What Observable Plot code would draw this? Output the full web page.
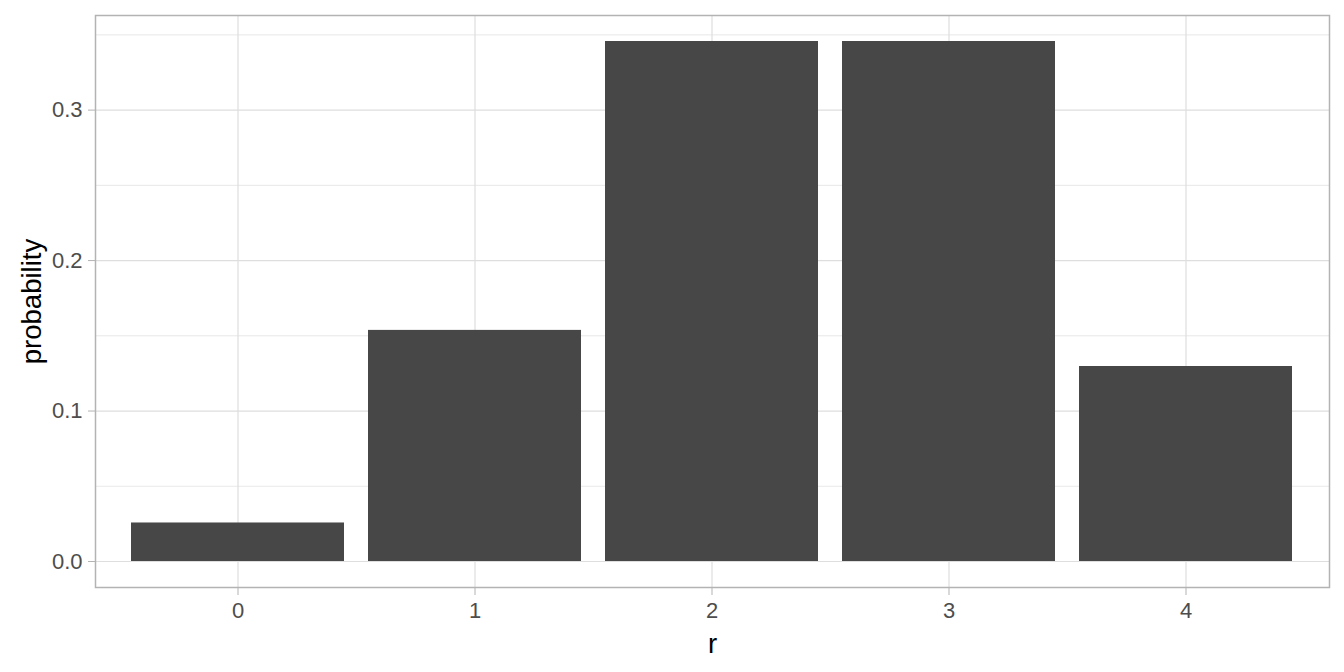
<!DOCTYPE html>
<html>
<head>
<meta charset="utf-8">
<script src="https://cdn.jsdelivr.net/npm/d3@7"></script>
<script src="https://cdn.jsdelivr.net/npm/@observablehq/plot@0.6"></script>
<style>
  html, body { margin: 0; padding: 0; background: white; }
</style>
</head>
<body>
<div id="chart"></div>
<script>
const r = [0, 1, 2, 3, 4];
const probability = [0.0256, 0.1536, 0.3456, 0.3456, 0.1296];
const yTicks = [0, 0.1, 0.2, 0.3];
const yMinorTicks = [0.05, 0.15, 0.25, 0.35];
const xTitle = "r";
const yTitle = "probability";

const data = r.map((v, i) => ({r: v, probability: probability[i]}));
const yMax = d3.max(probability);
const pad = yMax * 0.05;

const font = "'Liberation Sans', Arial, Helvetica, sans-serif";

const chart = Plot.plot({
  width: 1344,
  height: 672,
  marginLeft: 95,
  marginRight: 15,
  marginTop: 15,
  marginBottom: 85,
  style: {fontFamily: font, fontSize: "22px", color: "#4d4d4d", background: "white"},
  x: {type: "band", domain: r, paddingInner: 0.1, paddingOuter: 0.15, align: 0.5},
  y: {domain: [-pad, yMax + pad]},
  marks: [
    Plot.gridY(yMinorTicks, {stroke: "#dedede", strokeOpacity: 1, strokeWidth: 0.7}),
    Plot.gridY(yTicks, {stroke: "#dedede", strokeOpacity: 1, strokeWidth: 1.2}),
    Plot.gridX({stroke: "#dedede", strokeOpacity: 1, strokeWidth: 1.2}),
    Plot.barY(data, {x: "r", y: "probability", fill: "#474747"}),
    Plot.axisY({ticks: yTicks, tickFormat: d3.format(".1f"), tickSize: 7, tickPadding: 6, stroke: "#b3b3b3", fill: "#4d4d4d", fontSize: 22, label: null}),
    Plot.axisX({tickSize: 8, tickPadding: 7, stroke: "#b3b3b3", fill: "#4d4d4d", fontSize: 22, label: null}),
    Plot.frame({stroke: "#b3b3b3", strokeWidth: 1.5}),
    Plot.text([xTitle], {text: d => d, frameAnchor: "bottom", dy: 45.5, lineAnchor: "top", textAnchor: "middle", fontSize: 27.5, fill: "black"}),
    Plot.text([yTitle], {text: d => d, frameAnchor: "left", rotate: -90, dx: -74.5, lineAnchor: "top", textAnchor: "middle", fontSize: 27.5, fill: "black"})
  ]
});
document.getElementById("chart").append(chart);
</script>
</body>
</html>
